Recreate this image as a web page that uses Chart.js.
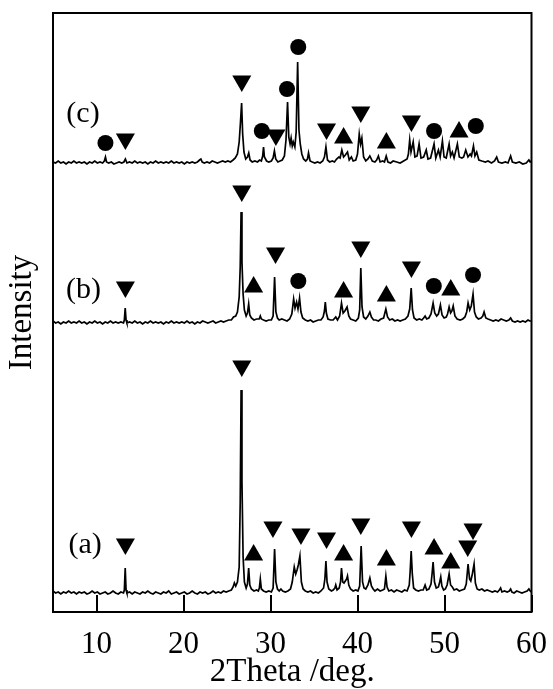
<!DOCTYPE html>
<html>
<head>
<meta charset="utf-8">
<title>XRD patterns (a)-(c)</title>
<script src="https://cdn.jsdelivr.net/npm/chart.js@4.4.1/dist/chart.umd.min.js"></script>
<style>
  html, body { margin: 0; padding: 0; background: #fff; }
  #wrap { width: 553px; height: 689px; position: relative; }
</style>
</head>
<body>
<div id="wrap"><canvas id="xrd"></canvas></div>
<script>
// XRD patterns: [2Theta, intensity], the three runs are stacked
const xTicks = [10, 20, 30, 40, 50, 60];

const patternA = [
  [5.0,21],[5.3,19],[5.6,20],[5.9,18],[6.2,20],[6.5,19],[6.8,21],[7.1,19],[7.4,20],[7.7,18],[8.0,20],[8.3,19],
  [8.6,20],[8.9,18],[9.2,19],[9.5,21],[9.8,19],[10.1,20],[10.4,18],[10.7,19],[11.0,20],[11.3,18],[11.6,19],[11.9,21],
  [12.2,19],[12.5,18],[12.8,20],[13.1,19],[13.2,22],[13.3,44],[13.4,22],[13.5,19],[13.8,20],[14.1,18],[14.4,20],
  [14.7,19],[15.0,18],[15.3,20],[15.6,19],[15.9,21],[16.2,19],[16.5,18],[16.8,20],[17.1,19],[17.4,18],[17.7,20],
  [18.0,19],[18.3,21],[18.6,18],[18.9,19],[19.2,20],[19.5,18],[19.8,19],[20.1,20],[20.4,18],[20.7,19],[21.0,21],
  [21.3,19],[21.6,18],[21.9,20],[22.2,19],[22.5,20],[22.8,18],[23.1,19],[23.4,21],[23.7,19],[24.0,20],[24.3,19],
  [24.6,21],[24.9,20],[25.2,21],[25.5,22],[25.7,25],[25.85,29],[26.0,26],[26.2,30],[26.4,45],[26.52,110],[26.62,222],
  [26.72,130],[26.85,55],[27.0,30],[27.2,24],[27.35,28],[27.49,44],[27.62,27],[27.8,23],[28.1,21],[28.4,22],[28.6,21],
  [28.72,24],[28.83,33],[28.95,23],[29.2,21],[29.5,20],[29.8,21],[30.1,20],[30.3,24],[30.47,63],[30.62,30],[30.8,23],
  [31.0,21],[31.2,23],[31.4,21],[31.7,20],[32.0,21],[32.3,23],[32.5,30],[32.73,45],[32.9,38],[33.05,42],[33.2,47],
  [33.38,56],[33.55,30],[33.75,23],[34.0,21],[34.3,20],[34.6,21],[34.9,19],[35.2,20],[35.5,19],[35.8,21],[36.1,24],
  [36.25,33],[36.37,51],[36.5,30],[36.7,23],[37.0,21],[37.2,22],[37.4,24],[37.5,27],[37.65,22],[37.9,24],[38.05,30],
  [38.16,44],[38.3,30],[38.45,29],[38.6,31],[38.75,33],[38.85,36],[39.0,27],[39.2,23],[39.5,21],[39.8,22],[40.05,21],
  [40.25,26],[40.42,66],[40.58,30],[40.75,24],[40.95,23],[41.2,27],[41.42,34],[41.6,26],[41.8,23],[42.0,21],[42.3,23],
  [42.6,21],[42.9,22],[43.1,23],[43.26,36],[43.4,25],[43.6,21],[43.9,22],[44.2,20],[44.5,22],[44.8,21],[45.1,20],
  [45.4,22],[45.7,21],[45.95,27],[46.05,40],[46.17,61],[46.3,38],[46.45,24],[46.7,22],[47.0,21],[47.3,22],[47.55,22],
  [47.77,27],[47.95,22],[48.2,23],[48.45,28],[48.57,38],[48.69,50],[48.85,30],[49.05,24],[49.3,25],[49.45,30],
  [49.57,35],[49.7,26],[49.9,22],[50.1,23],[50.3,27],[50.53,38],[50.7,27],[50.9,25],[51.1,22],[51.4,23],[51.7,21],
  [52.0,22],[52.3,23],[52.5,28],[52.71,48],[52.88,33],[53.02,31],[53.2,38],[53.4,48],[53.55,29],[53.75,23],[54.0,22],
  [54.3,23],[54.6,21],[54.9,22],[55.2,21],[55.5,20],[55.8,21],[56.1,20],[56.3,22],[56.45,24],[56.6,20],[56.9,21],
  [57.2,20],[57.45,21],[57.6,23],[57.75,20],[58.0,19],[58.3,21],[58.6,20],[58.9,19],[59.2,20],[59.5,21],[59.7,23],
  [59.85,21],[60.0,20]
];

const patternB = [
  [5.0,291],[5.3,289],[5.6,290],[5.9,288],[6.2,290],[6.5,289],[6.8,291],[7.1,289],[7.4,290],[7.7,289],[8.0,291],
  [8.3,289],[8.6,290],[8.9,288],[9.2,290],[9.5,289],[9.8,291],[10.1,289],[10.4,290],[10.7,288],[11.0,290],[11.3,289],
  [11.6,291],[11.9,289],[12.2,290],[12.5,289],[12.8,290],[13.1,289],[13.2,292],[13.3,304],[13.4,292],[13.5,289],
  [13.8,290],[14.1,289],[14.4,291],[14.7,289],[15.0,290],[15.3,288],[15.6,290],[15.9,289],[16.2,291],[16.5,289],
  [16.8,290],[17.1,289],[17.4,290],[17.7,288],[18.0,290],[18.3,289],[18.6,291],[18.9,289],[19.2,290],[19.5,289],
  [19.8,290],[20.1,289],[20.4,291],[20.7,289],[21.0,290],[21.3,288],[21.6,290],[21.9,289],[22.2,291],[22.5,290],
  [22.8,289],[23.1,290],[23.4,291],[23.7,289],[24.0,290],[24.3,291],[24.6,290],[24.9,291],[25.2,292],[25.5,292],
  [25.75,295],[26.0,296],[26.2,300],[26.4,315],[26.52,345],[26.62,400],[26.72,350],[26.85,318],[27.0,302],[27.2,296],
  [27.35,299],[27.49,308],[27.62,297],[27.8,294],[28.1,292],[28.4,293],[28.7,293],[28.83,296],[28.95,293],[29.2,292],
  [29.5,291],[29.8,292],[30.1,292],[30.3,296],[30.47,335],[30.62,300],[30.8,294],[31.0,292],[31.3,293],[31.6,292],
  [31.9,291],[32.2,293],[32.45,298],[32.66,313],[32.82,304],[33.0,310],[33.16,303],[33.34,314],[33.5,300],[33.7,294],
  [34.0,292],[34.3,291],[34.6,292],[34.9,290],[35.2,291],[35.5,292],[35.8,292],[36.05,295],[36.2,301],[36.3,310],
  [36.42,299],[36.6,293],[36.9,292],[37.2,292],[37.5,295],[37.7,292],[37.95,296],[38.16,309],[38.35,299],[38.55,301],
  [38.8,305],[39.0,296],[39.2,293],[39.5,292],[39.8,291],[40.1,294],[40.25,302],[40.38,344],[40.52,305],[40.7,295],
  [40.95,293],[41.2,296],[41.42,300],[41.6,295],[41.85,292],[42.1,292],[42.4,291],[42.7,293],[43.0,294],[43.26,303],
  [43.45,295],[43.7,292],[44.0,293],[44.3,291],[44.6,292],[44.9,291],[45.2,292],[45.5,293],[45.8,296],[46.0,303],
  [46.17,324],[46.32,302],[46.5,294],[46.8,292],[47.1,293],[47.4,292],[47.6,294],[47.77,296],[47.95,293],[48.2,294],
  [48.45,298],[48.69,309],[48.88,299],[49.1,296],[49.3,298],[49.53,307],[49.72,297],[49.95,294],[50.2,295],[50.35,298],
  [50.53,305],[50.7,299],[50.85,301],[51.0,306],[51.2,296],[51.45,293],[51.8,292],[52.1,293],[52.35,295],[52.55,300],
  [52.71,309],[52.9,302],[53.08,306],[53.28,318],[53.45,300],[53.65,295],[53.9,293],[54.2,294],[54.4,296],[54.55,300],
  [54.75,294],[55.0,293],[55.3,292],[55.6,291],[55.9,292],[56.2,291],[56.5,293],[56.8,292],[57.1,291],[57.4,292],
  [57.6,294],[57.8,291],[58.1,290],[58.4,291],[58.7,290],[59.0,291],[59.3,290],[59.6,292],[59.8,291],[60.0,291]
];

const patternC = [
  [5.0,450],[5.3,449],[5.6,451],[5.9,449],[6.2,450],[6.5,448],[6.8,450],[7.1,449],[7.4,451],[7.7,449],[8.0,450],
  [8.3,449],[8.6,450],[8.9,448],[9.2,450],[9.5,449],[9.8,451],[10.1,449],[10.4,450],[10.7,449],[10.9,451],[11.03,455],
  [11.15,450],[11.4,449],[11.7,450],[12.0,448],[12.3,449],[12.6,450],[12.9,449],[13.15,450],[13.32,453],[13.5,449],
  [13.8,450],[14.1,449],[14.4,451],[14.7,449],[15.0,450],[15.3,449],[15.6,450],[15.9,448],[16.2,450],[16.5,449],
  [16.8,451],[17.1,449],[17.4,450],[17.7,449],[18.0,450],[18.3,449],[18.6,451],[18.9,449],[19.2,450],[19.5,449],
  [19.8,450],[20.1,448],[20.4,450],[20.7,449],[21.0,450],[21.3,449],[21.6,450],[21.85,452],[22.0,453],[22.15,450],
  [22.4,449],[22.7,450],[23.0,449],[23.3,451],[23.6,450],[23.9,449],[24.2,450],[24.5,451],[24.8,450],[25.1,451],
  [25.4,450],[25.7,452],[25.95,454],[26.2,458],[26.4,470],[26.55,490],[26.68,509],[26.8,478],[26.95,460],[27.15,453],
  [27.35,455],[27.5,459],[27.65,452],[27.9,450],[28.2,451],[28.5,450],[28.75,452],[28.95,451],[29.1,456],[29.2,465],
  [29.3,455],[29.55,451],[29.8,450],[30.1,451],[30.3,454],[30.45,461],[30.6,453],[30.85,450],[31.1,451],[31.35,452],
  [31.6,456],[31.78,472],[31.96,510],[32.1,475],[32.25,468],[32.37,474],[32.5,466],[32.62,470],[32.8,465],[32.95,480],
  [33.12,550],[33.27,482],[33.42,468],[33.6,458],[33.8,453],[34.05,451],[34.25,453],[34.37,459],[34.55,451],[34.8,450],
  [35.1,449],[35.4,450],[35.7,449],[36.0,451],[36.2,455],[36.37,465],[36.55,452],[36.8,450],[37.1,451],[37.35,450],
  [37.6,453],[37.85,455],[38.0,454],[38.2,462],[38.4,455],[38.6,457],[38.85,460],[39.05,452],[39.3,455],[39.5,451],
  [39.8,452],[40.0,458],[40.2,478],[40.35,468],[40.5,474],[40.7,455],[40.95,451],[41.2,453],[41.42,456],[41.7,451],
  [42.0,450],[42.2,452],[42.4,456],[42.6,450],[42.9,451],[43.1,450],[43.3,456],[43.5,450],[43.8,449],[44.1,451],
  [44.5,450],[44.9,449],[45.3,451],[45.7,453],[45.85,458],[46.0,472],[46.15,460],[46.4,470],[46.6,455],[46.85,456],
  [47.08,468],[47.3,454],[47.6,455],[47.9,462],[48.1,453],[48.4,454],[48.8,468],[49.0,454],[49.3,462],[49.5,455],
  [49.76,471],[49.95,455],[50.2,454],[50.53,468],[50.7,456],[50.9,460],[51.1,454],[51.48,468],[51.7,455],[52.0,454],
  [52.2,455],[52.44,462],[52.7,455],[52.95,458],[53.1,456],[53.33,466],[53.5,456],[53.7,460],[53.95,452],[54.3,451],
  [54.7,450],[55.0,451],[55.4,449],[55.75,451],[56.0,455],[56.2,450],[56.6,449],[57.0,450],[57.3,449],[57.6,456],
  [57.8,450],[58.2,449],[58.6,450],[59.0,448],[59.4,449],[59.7,452],[59.85,450],[60.0,451]
];

// phase markers above the peaks: [2Theta, height]
const downA = [[13.32,68],[26.7,246],[30.28,85],[33.5,78],[36.44,74],[40.38,88],[46.2,85],[52.67,66],[53.28,83]];
const upA   = [[28.06,57],[38.4,57],[43.32,52],[48.8,63],[50.72,49]];
const downB = [[13.32,325],[26.7,421],[30.58,359],[40.38,365],[46.2,345]];
const upB   = [[28.06,325],[38.4,320],[43.32,316],[50.72,322]];
const dotB  = [[33.2,331],[48.77,326],[53.28,337]];
const downC = [[13.32,473],[26.7,531],[30.62,477],[36.44,483],[40.38,500],[46.2,491]];
const upC   = [[38.4,474],[43.32,469],[51.67,480]];
const dotC  = [[11.03,469],[29.0,481],[31.9,523],[33.19,565],[48.8,481],[53.6,486]];

const patternNames = ['(a)', '(b)', '(c)'];
const nameSpots = [[8.7, 67], [8.5, 322], [8.45, 498]];

const serif = '"Liberation Serif", "Times New Roman", serif';

// box round the plot, inward ticks on the bottom axis and the (a)(b)(c) names
const framePlugin = {
  id: 'frame',
  afterDatasetsDraw(chart) {
    const { ctx, chartArea: a, scales: { x, y } } = chart;
    ctx.save();
    ctx.strokeStyle = '#000';
    ctx.lineWidth = 2;
    ctx.strokeRect(a.left, a.top, a.right - a.left, a.bottom - a.top);
    xTicks.forEach(v => {
      const px = Math.round(x.getPixelForValue(v));
      ctx.beginPath();
      ctx.moveTo(px, a.bottom);
      ctx.lineTo(px, a.bottom - 17);
      ctx.stroke();
    });
    ctx.fillStyle = '#000';
    ctx.font = '30px ' + serif;
    ctx.textAlign = 'center';
    ctx.textBaseline = 'middle';
    patternNames.forEach((t, i) => {
      ctx.fillText(t, x.getPixelForValue(nameSpots[i][0]), y.getPixelForValue(nameSpots[i][1]));
    });
    ctx.restore();
  }
};

const trace = data => ({
  type: 'line', data, borderColor: '#000', borderWidth: 1.7,
  pointRadius: 0, fill: false, tension: 0
});
const marks = (data, style, rot, r) => ({
  type: 'scatter', data, pointStyle: style, pointRotation: rot, pointRadius: r,
  pointBackgroundColor: '#000', pointBorderWidth: 0, showLine: false
});

new Chart(document.getElementById('xrd'), {
  data: {
    datasets: [
      trace(patternA), trace(patternB), trace(patternC),
      marks(downA, 'triangle', 180, 11), marks(upA, 'triangle', 0, 11),
      marks(downB, 'triangle', 180, 11), marks(upB, 'triangle', 0, 11), marks(dotB, 'circle', 0, 8),
      marks(downC, 'triangle', 180, 11), marks(upC, 'triangle', 0, 11), marks(dotC, 'circle', 0, 8)
    ]
  },
  options: {
    responsive: true,
    maintainAspectRatio: false,
    animation: false,
    events: [],
    layout: { padding: { top: 13, right: 20, left: 0, bottom: 0 } },
    plugins: { legend: { display: false }, tooltip: { enabled: false } },
    scales: {
      x: {
        type: 'linear', min: 5, max: 60,
        afterBuildTicks: s => { s.ticks = xTicks.map(v => ({ value: v })); },
        afterFit: s => { s.height = 77; },
        grid: { display: false },
        border: { display: false },
        ticks: { color: '#000', padding: 6, maxRotation: 0, autoSkip: false, font: { family: serif, size: 31 } },
        title: { display: true, text: '2Theta /deg.', color: '#000', padding: { top: 0, bottom: 0 },
                 font: { family: serif, size: 33, lineHeight: 1 } }
      },
      y: {
        type: 'linear', min: 0, max: 599,
        afterFit: s => { s.width = 53; },
        grid: { display: false },
        border: { display: false },
        ticks: { display: false },
        title: { display: true, text: 'Intensity', color: '#000', padding: { top: 3, bottom: 0 },
                 font: { family: serif, size: 33 } }
      }
    }
  },
  plugins: [framePlugin]
});
</script>
</body>
</html>
